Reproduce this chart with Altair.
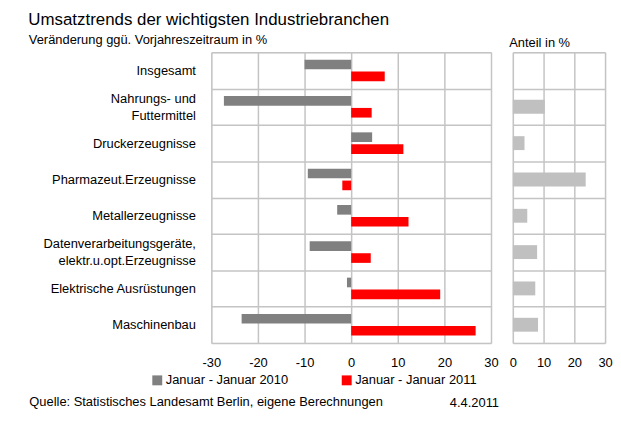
import altair as alt
import pandas as pd

categories = [
    "Insgesamt",
    "Nahrungs- und\nFuttermittel",
    "Druckerzeugnisse",
    "Pharmazeut.Erzeugnisse",
    "Metallerzeugnisse",
    "Datenverarbeitungsgeräte,\nelektr.u.opt.Erzeugnisse",
    "Elektrische Ausrüstungen",
    "Maschinenbau",
]
series = ["Januar - Januar 2010", "Januar - Januar 2011"]
v2010 = [-10.0, -27.3, 4.5, -9.3, -3.0, -8.9, -0.9, -23.5]
v2011 = [7.2, 4.4, 11.2, -1.9, 12.3, 4.2, 19.1, 26.7]
anteil = [None, 10.4, 3.8, 23.7, 4.7, 7.9, 7.3, 8.2]
ticks_left = [-30, -20, -10, 0, 10, 20, 30]
ticks_right = [0, 10, 20, 30]

rows = []
for c, a, b in zip(categories, v2010, v2011):
    rows.append({"category": c, "series": series[0], "value": a})
    rows.append({"category": c, "series": series[1], "value": b})
df_left = pd.DataFrame(rows)
df_right = pd.DataFrame({"category": categories, "anteil": anteil})

GRID = "#c4c4c4"
FONT = "Liberation Sans"

yscale = alt.Scale(domain=categories, paddingInner=0, paddingOuter=0)

left = alt.Chart(df_left).mark_bar().encode(
    y=alt.Y("category:N", scale=yscale,
            axis=alt.Axis(grid=True, tickBand="extent", ticks=False,
                          domain=False, labelExpr="split(datum.label, '\\n')",
                          labelOffset={"condition": {"test": "indexof(datum.label, '\\n') >= 0",
                                                     "value": -8.5},
                                       "value": 0},
                          labelFontSize=13, labelPadding=16, labelColor="black",
                          labelLineHeight=17, gridColor=GRID, gridWidth=1.5,
                          title="4.4.2011", titleAngle=0, titleX=240, titleY=353,
                          titleAlign="left", titleBaseline="middle", titleFontSize=13,
                          titleFontWeight="normal", titleColor="black")),
    yOffset=alt.YOffset("series:N", sort=series,
                        scale=alt.Scale(paddingInner=0.19, paddingOuter=0.62)),
    x=alt.X("value:Q", scale=alt.Scale(domain=[-30, 30]),
            axis=alt.Axis(values=ticks_left, grid=True, ticks=False, domain=False,
                          gridColor=GRID, gridWidth=1.5, labelFontSize=13,
                          labelColor="black", labelPadding=14, labelFlush=False,
                          labelExpr="datum.value",
                          title="Quelle: Statistisches Landesamt Berlin, eigene Berechnungen",
                          titleX=-184, titleY=59, titleAlign="left",
                          titleBaseline="middle", titleFontSize=13,
                          titleFontWeight="normal", titleColor="black")),
    color=alt.Color("series:N",
                    scale=alt.Scale(domain=series, range=["#808080", "#ff0000"]),
                    legend=alt.Legend(title=None, orient="none", legendX=-61, legendY=324,
                                      direction="horizontal", symbolType="square",
                                      symbolSize=100, symbolStrokeWidth=0,
                                      labelFontSize=13, labelColor="black",
                                      labelOffset=2, columnPadding=52)),
).properties(width=282, height=293,
             title=alt.TitleParams("Veränderung ggü. Vorjahreszeitraum in %",
                                   anchor="start", fontSize=13, fontWeight="normal",
                                   offset=-1, color="black"))

right = alt.Chart(df_right).mark_bar(size=14, color="#c0c0c0").encode(
    y=alt.Y("category:N", scale=yscale,
            axis=alt.Axis(title=None, labels=False, ticks=False, domain=False,
                          minExtent=0, maxExtent=0,
                          grid=True, tickBand="extent", gridColor=GRID, gridWidth=1.5)),
    x=alt.X("anteil:Q", scale=alt.Scale(domain=[0, 30]),
            axis=alt.Axis(values=ticks_right, grid=True, ticks=False, domain=False,
                          gridColor=GRID, gridWidth=1.5, labelFontSize=13,
                          labelColor="black", labelPadding=14, labelFlush=False,
                          title=None)),
).properties(width=93, height=293,
             title=alt.TitleParams("Anteil in %", anchor="start", fontSize=13,
                                   fontWeight="normal", offset=2.5, color="black"))

chart = alt.hconcat(left, right, spacing=8).properties(
    title=alt.TitleParams("Umsatztrends der wichtigsten Industriebranchen",
                          anchor="start", fontSize=17, fontWeight="normal",
                          color="black", offset=5),
    padding={"left": 20, "top": 1, "right": 0, "bottom": 2},
    background="white",
).configure_view(stroke=GRID, strokeWidth=1.5).configure(font=FONT)

chart.save("out.html", embed_options={"renderer": "svg", "actions": False})
